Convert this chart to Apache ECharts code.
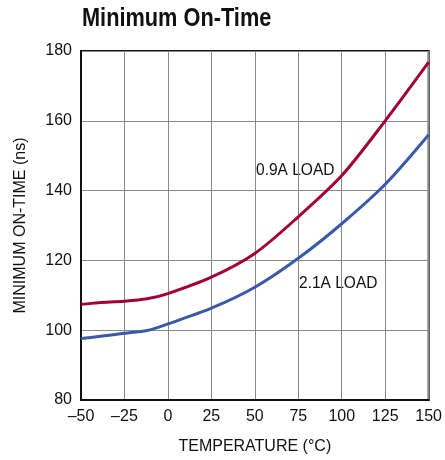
<!DOCTYPE html>
<html>
<head>
<meta charset="utf-8">
<script src="https://cdn.jsdelivr.net/npm/echarts@6/dist/echarts.min.js"></script>
<style>html,body{margin:0;padding:0;background:#fff}#c{width:445px;height:460px}</style>
</head>
<body>
<div id="c"></div>
<script>
const temps = [-50, -40, -25, -12, 0, 25, 50, 75, 100, 125, 150];
const load09 = [107.4, 107.9, 108.3, 109.0, 110.5, 115.2, 122.0, 132.5, 144.3, 160.0, 176.8];
const load21 = [97.6, 98.2, 99.1, 99.9, 101.8, 106.3, 112.3, 120.6, 130.5, 141.8, 156.0];
const xTicks = [-50, -25, 0, 25, 50, 75, 100, 125, 150];
const yTicks = [80, 100, 120, 140, 160, 180];

const FONT = '"Liberation Sans", Arial, sans-serif';
const chart = echarts.init(document.getElementById('c'), null, {renderer: 'canvas'});
const pair = arr => temps.map((t, i) => [t, arr[i]]);
chart.setOption({
  animation: false,
  grid: {left: 81, right: 13, top: 51, bottom: 57, show: true, borderColor: '#111', borderWidth: 2, backgroundColor: 'transparent'},
  xAxis: {
    type: 'value', min: xTicks[0], max: xTicks[xTicks.length - 1], interval: 25,
    name: 'TEMPERATURE (°C)', nameLocation: 'middle', nameGap: 39,
    nameTextStyle: {fontFamily: FONT, fontSize: 16, color: '#111'},
    axisLine: {show: true, onZero: false, lineStyle: {color: '#111', width: 2}},
    axisTick: {show: false},
    axisLabel: {fontFamily: FONT, fontSize: 16, color: '#111', margin: 9,
      formatter: v => String(v).replace('-', '\u2013')},
    splitLine: {show: true, lineStyle: {color: '#8a8a8a', width: 1}}
  },
  yAxis: {
    type: 'value', min: yTicks[0], max: yTicks[yTicks.length - 1], interval: 20,
    name: 'MINIMUM ON-TIME (ns)', nameLocation: 'middle', nameGap: 52,
    nameTextStyle: {fontFamily: FONT, fontSize: 16, color: '#111'},
    axisLine: {show: true, onZero: false, lineStyle: {color: '#111', width: 2}},
    axisTick: {show: false},
    axisLabel: {fontFamily: FONT, fontSize: 16, color: '#111', margin: 9},
    splitLine: {show: true, lineStyle: {color: '#8a8a8a', width: 1}}
  },
  series: [
    {type: 'line', name: '0.9A LOAD', data: pair(load09), smooth: 0.3, showSymbol: false,
     lineStyle: {color: '#a3003a', width: 3}},
    {type: 'line', name: '2.1A LOAD', data: pair(load21), smooth: 0.3, showSymbol: false,
     lineStyle: {color: '#3a5aa8', width: 3}}
  ],
  graphic: [
    {type: 'text', x: 82, y: 7, scaleX: 0.87,
     style: {text: 'Minimum On-Time', fontFamily: FONT, fontWeight: 'bold', fontSize: 25, fill: '#111'}},
    {type: 'text', x: 256, y: 163, scaleX: 0.97, style: {text: '0.9A LOAD', fontFamily: FONT, fontSize: 16, fill: '#111'}},
    {type: 'text', x: 299, y: 276, scaleX: 0.97, style: {text: '2.1A LOAD', fontFamily: FONT, fontSize: 16, fill: '#111'}}
  ]
});
</script>
</body>
</html>
